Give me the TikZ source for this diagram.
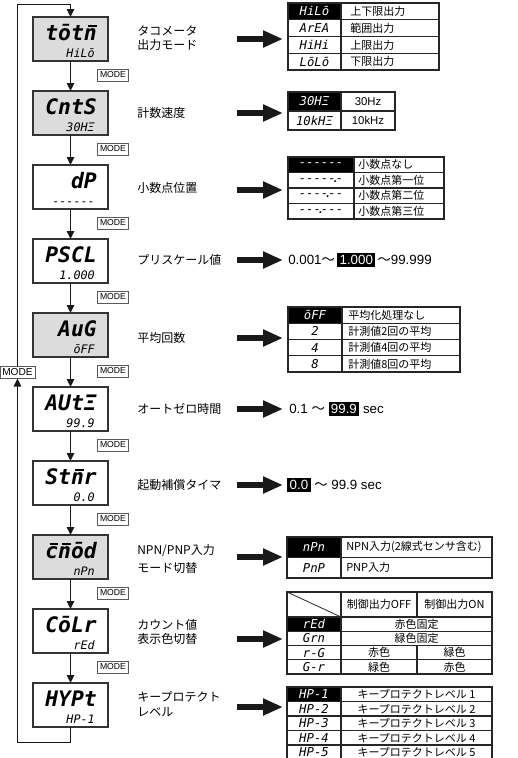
\documentclass[tikz,border=0pt]{standalone}
\usepackage{fontspec}
\setmainfont{Liberation Sans}
\newfontfamily\jp{Noto Sans CJK JP}
\newfontfamily\segfont{DejaVu Sans Mono}
\usetikzlibrary{arrows.meta,calc}
\definecolor{dispgray}{RGB}{220,220,220}
\newcommand\blkbox[1]{{\setlength{\fboxsep}{1.8pt}\colorbox{black}{\textcolor{white}{#1}}}}
\newcommand\ob[1]{\rlap{\kern0.2em\raisebox{0.64em}{\rule{0.4em}{0.085em}}}#1}
\newcommand\mkdisp[5]{%
  \node[disp,fill=#3] (#1) at (70.5,#2) {};
  \node[segbig,anchor=base east] (#1t) at (97,#2+1.5) {#4};
  \node[segsml,anchor=base east] (#1b) at (95,#2+18) {#5};}
\begin{document}
\begin{tikzpicture}[x=0.75pt,y=-0.75pt,
  disp/.style={draw=black!80,line width=0.9pt,minimum width=56.25pt,minimum height=33pt,inner sep=0,outer sep=0},
  segbig/.style={font=\segfont\bfseries\itshape\fontsize{16}{16}\selectfont,inner sep=0},
  segsml/.style={font=\segfont\itshape\fontsize{8.8}{9}\selectfont,inner sep=0},
  segtab/.style={font=\segfont\itshape\fontsize{9.2}{9.5}\selectfont,inner sep=0},
  jptab/.style={font=\jp\fontsize{8.25}{9}\selectfont,inner sep=0},
  lattab/.style={font=\fontsize{8.5}{9}\selectfont,inner sep=0},
  lbl/.style={font=\jp\fontsize{9}{11}\selectfont,anchor=west,align=left,inner sep=0},
  rng/.style={font=\fontsize{10}{11}\selectfont,anchor=west,inner sep=0},
  varrow/.style={line width=1.4pt,draw=black!90,-{Triangle[length=6pt,width=5.5pt]}},
  loopline/.style={line width=1.4pt,draw=black!90,line join=miter},
  modebox/.style={draw=black!65,line width=0.6pt,fill=white,font=\fontsize{6.5}{7}\selectfont,inner sep=0.5pt,minimum width=23.25pt,minimum height=9pt},
  bigarrow/.style={line width=4.5pt,draw=black!90,-{Triangle[length=15pt,width=12pt]}},
  tabline/.style={draw=black!85,line width=0.8pt}]
\useasboundingbox (0,0) rectangle (518,758);
\clip (0,0) rectangle (518,758);

% displays
\mkdisp{d1}{39}{dispgray}{tōt\ob{n}}{HiLō}
\mkdisp{d2}{113}{dispgray}{CntS}{30HΞ}
\mkdisp{d3}{187}{white}{dP}{------}
\mkdisp{d4}{261}{white}{PSCL}{1.000}
\mkdisp{d5}{335}{dispgray}{AuG}{ōFF}
\mkdisp{d6}{409}{white}{AUtΞ}{99.9}
\mkdisp{d7}{483}{white}{St\ob{n}r}{0.0}
\mkdisp{d8}{557}{dispgray}{\ob{c}\ob{n}ōd}{nPn}
\mkdisp{d9}{631}{white}{CōLr}{rEd}
\mkdisp{d10}{705}{white}{HYPt}{HP-1}

\foreach \a/\b in {d1/d2,d2/d3,d3/d4,d4/d5,d5/d6,d6/d7,d7/d8,d8/d9,d9/d10}
  \draw[varrow] (\a.south) -- (\b.north);
\foreach \i/\y in {1/75,2/149,3/223,4/297,5/371,6/445,7/519,8/593,9/667}
  \node[modebox] (m\i) at (113,\y) {MODE};

% loop
\node[modebox,font=\fontsize{7.6}{8}\selectfont,minimum width=26.25pt,minimum height=8.5pt] (mL) at (17.5,372.5) {MODE};
\coordinate (lt) at (17.5,4.5);
\coordinate (lb) at (17.5,742.5);
\draw[loopline,-{Triangle[length=6pt,width=5.5pt]}] (d10.south) |- (lb) -- (mL.south);
\draw[loopline,-{Triangle[length=6pt,width=5.5pt]}] (mL.north) -- (lt) -| (d1.north);

% labels
\node[lbl] (l1) at (137,38) {タコメータ\\出力モード};
\node[lbl] (l2) at (137,113) {計数速度};
\node[lbl] (l3) at (137,188) {小数点位置};
\node[lbl] (l4) at (137,260) {プリスケール値};
\node[lbl] (l5) at (137,338) {平均回数};
\node[lbl] (l6) at (137,409) {オートゼロ時間};
\node[lbl] (l7) at (137,485) {起動補償タイマ};
\node[lbl] (l8) at (137,559) {NPN/PNP入力\\[2pt]モード切替};
\node[lbl] (l9) at (137,632) {カウント値\\表示色切替};
\node[lbl] (l10) at (137,704) {キープロテクト\\レベル};

% big arrows
\foreach \i/\y in {1/39,2/113,3/190,4/260,5/338,6/409,7/485,8/557,9/639,10/707}{
  \coordinate (as\i) at (237,\y);
  \coordinate (ae\i) at (283,\y);
  \draw[bigarrow] (as\i) -- (ae\i);}

% table 1
\fill[black] (288,3) rectangle (341,19.75);
\draw[tabline] (288,3) rectangle (439,70) (341,3) -- (341,70);
\foreach \k in {1,2,3}{\draw[tabline] (288,3+16.75*\k) -- (439,3+16.75*\k);}
\foreach \l/\r [count=\k] in {HiLō/上下限出力,ArEA/範囲出力,HiHi/上限出力,LōLō/下限出力}{
  \node[segtab] (t1l\k) at (314.5,16.75*\k-5.375) {\ifnum\k=1\color{white}\fi\l};
  \node[jptab,anchor=west] (t1r\k) at (350,16.75*\k-5.375) {\r};}

% table 2
\fill[black] (288,92) rectangle (341,111);
\draw[tabline] (288,92) rectangle (395,130) (341,92) -- (341,130) (288,111) -- (395,111);
\node[segtab,text=white] (t2l1) at (314.5,101.5) {30HΞ};
\node[lattab] (t2r1) at (368,101.5) {30Hz};
\node[segtab] (t2l2) at (314.5,120.5) {10kHΞ};
\node[lattab] (t2r2) at (368,120.5) {10kHz};

% table 3
\fill[black] (288,157) rectangle (354,172.5);
\draw[tabline] (288,157) rectangle (444,219) (354,157) -- (354,219);
\foreach \yy in {172.5,188,203.5}{\draw[tabline] (288,\yy) -- (444,\yy);}
\node[segtab,text=white] (t3l1) at (321,164.75) {------};
\node[segtab] (t3l2) at (321,180.25) {-----\makebox[0pt]{.}-};
\node[segtab] (t3l3) at (321,195.75) {----\makebox[0pt]{.}--};
\node[segtab] (t3l4) at (321,211.25) {---\makebox[0pt]{.}---};
\node[jptab,anchor=west] (t3r1) at (358,164.75) {小数点なし};
\node[jptab,anchor=west] (t3r2) at (358,180.25) {小数点第一位};
\node[jptab,anchor=west] (t3r3) at (358,195.75) {小数点第二位};
\node[jptab,anchor=west] (t3r4) at (358,211.25) {小数点第三位};

% prescale range
\node[rng] (r4) at (288,260) {0.001{\jp ～}\,\blkbox{1.000}\,{\jp ～}99.999};

% table 4
\fill[black] (288,307) rectangle (342,323.25);
\draw[tabline] (288,307) rectangle (460,372) (342,307) -- (342,372);
\foreach \yy in {323.25,339.5,355.75}{\draw[tabline] (288,\yy) -- (460,\yy);}
\foreach \l/\r [count=\k] in {ōFF/平均化処理なし,2/計測値2回の平均,4/計測値4回の平均,8/計測値8回の平均}{
  \node[segtab] (t4l\k) at (315,298.875+16.25*\k) {\ifnum\k=1\color{white}\fi\l};
  \node[jptab,anchor=west] (t4r\k) at (348,298.875+16.25*\k) {\r};}

% auto zero and start timer
\node[rng] (r6) at (289,409) {0.1 {\jp ～} \blkbox{99.9} sec};
\node[rng] (r7) at (287,485) {\blkbox{0.0} {\jp ～} 99.9 sec};

% table 5
\fill[black] (287,537) rectangle (341,557.5);
\draw[tabline] (287,537) rectangle (492,578) (341,537) -- (341,578) (287,557.5) -- (492,557.5);
\node[segtab,text=white] (t5l1) at (314,547.25) {nPn};
\node[segtab] (t5l2) at (314,567.75) {PnP};
\node[jptab,anchor=west] (t5r1) at (346,547.25) {NPN入力(2線式センサ含む)};
\node[jptab,anchor=west] (t5r2) at (346,567.75) {PNP入力};

% table 6
\fill[black] (287,617) rectangle (341,631.25);
\draw[tabline] (287,592) rectangle (492,674) (341,592) -- (341,674);
\draw[tabline] (417,592) -- (417,617) (417,645.5) -- (417,674);
\foreach \yy in {617,631.25,645.5,659.75}{\draw[tabline] (287,\yy) -- (492,\yy);}
\draw[draw=black!85,line width=0.6pt] (287,592) -- (341,617);
\node[jptab] (t6h1) at (379,604.5) {制御出力OFF};
\node[jptab] (t6h2) at (454.5,604.5) {制御出力ON};
\node[segtab,text=white] (t6l1) at (314,624.1) {rEd};
\node[segtab] (t6l2) at (314,638.4) {Grn};
\node[segtab] (t6l3) at (314,652.6) {r-G};
\node[segtab] (t6l4) at (314,666.9) {G-r};
\node[jptab] (t6a) at (416.5,624.1) {赤色固定};
\node[jptab] (t6b) at (416.5,638.4) {緑色固定};
\node[jptab] (t6c1) at (379,652.6) {赤色};
\node[jptab] (t6c2) at (454.5,652.6) {緑色};
\node[jptab] (t6d1) at (379,666.9) {緑色};
\node[jptab] (t6d2) at (454.5,666.9) {赤色};

% table 7 (its lower border lies beyond the lower edge)
\fill[black] (287,687) rectangle (341,701.5);
\draw[tabline] (287,687) rectangle (492,759.5) (341,687) -- (341,759.5);
\foreach \yy in {701.5,716,730.5,745}{\draw[tabline] (287,\yy) -- (492,\yy);}
\foreach \k in {1,...,5}{
  \node[segtab] (t7l\k) at (314,679.75+14.5*\k) {\ifnum\k=1\color{white}\fi HP-\k};
  \node[jptab] (t7r\k) at (416.5,679.75+14.5*\k) {キープロテクトレベル \k};}
\end{tikzpicture}
\end{document}
